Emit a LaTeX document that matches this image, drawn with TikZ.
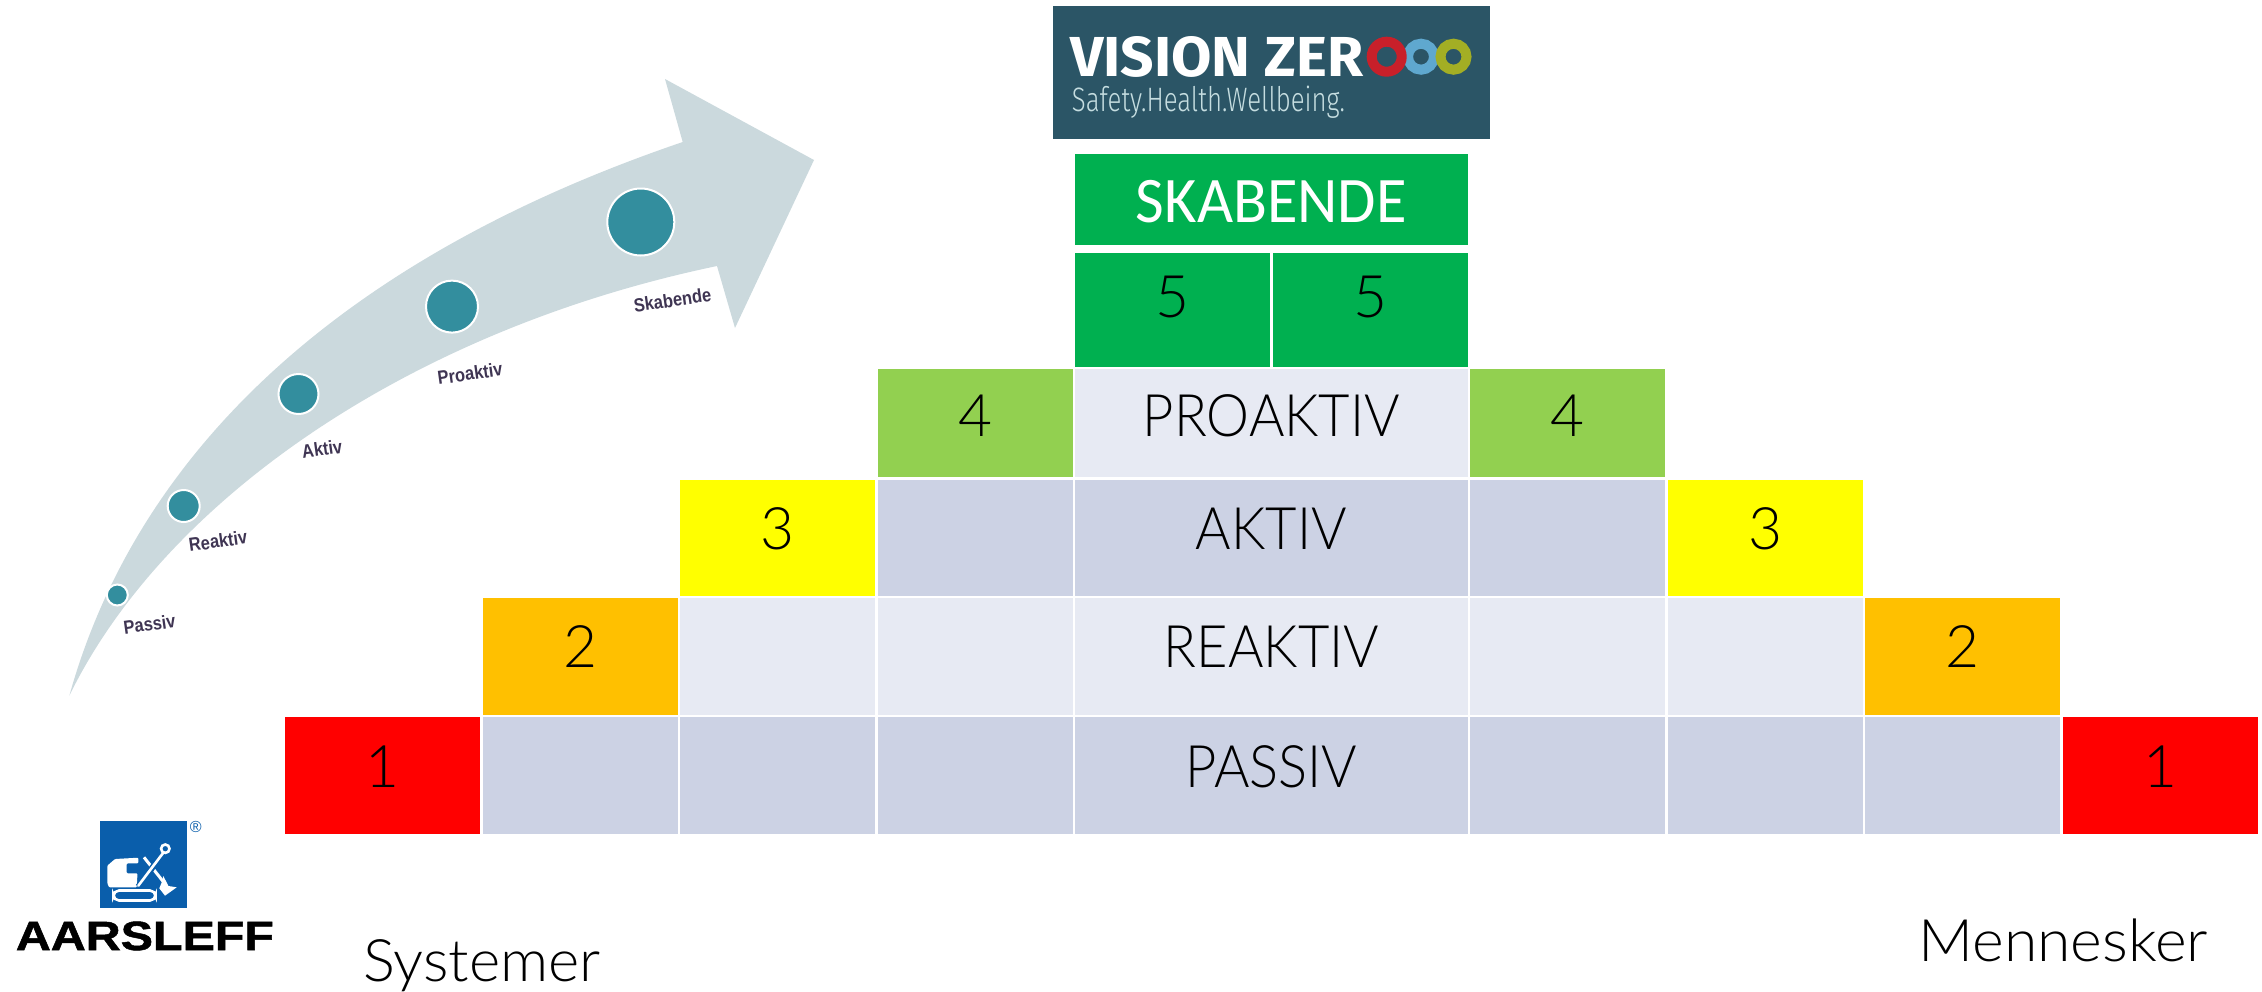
\documentclass[tikz,border=0pt]{standalone}
\usepackage{graphicx}
\usepackage{fontspec}
\setmainfont{Lato Light}
\newfontfamily\skabfont[FakeStretch=0.96]{Carlito}
\newfontfamily\arrowfont{Liberation Sans}
\newfontfamily\visionfont{Fira Sans}
\newfontfamily\visionlight{Fira Sans Light}
\newfontfamily\aarfont[BoldFeatures={FakeBold=1.2}]{Liberation Sans}
\definecolor{passivc}{HTML}{CCD2E4}
\definecolor{lightc}{HTML}{E7EAF3}
\definecolor{greenc}{HTML}{00B050}
\definecolor{lgreenc}{HTML}{92D050}
\definecolor{yellowc}{HTML}{FFFF00}
\definecolor{orangec}{HTML}{FFC000}
\definecolor{redc}{HTML}{FF0000}
\definecolor{arrowc}{HTML}{CBD9DD}
\definecolor{dotc}{HTML}{338E9E}
\definecolor{labc}{HTML}{3F3553}
\definecolor{visionc}{HTML}{2B5566}
\definecolor{safetyc}{HTML}{C5DDE0}
\definecolor{ringr}{HTML}{C8202A}
\definecolor{ringb}{HTML}{5FA8CF}
\definecolor{ringo}{HTML}{A3AE24}
\definecolor{aarc}{HTML}{0A5EAB}
\tikzset{
  cellbox/.style={rectangle,inner sep=0pt,outer sep=0pt,text height=0pt,text depth=0pt,font=\fontsize{58.6}{64}\selectfont},
  dot/.style={circle,fill=dotc,draw=white,line width=2pt,inner sep=0pt},
  arrowlab/.style={font=\arrowfont\bfseries\fontsize{16.5}{18}\selectfont,text=labc,rotate=8,inner sep=0pt},
  bigtext/.style={font=\fontsize{58.6}{64}\selectfont,anchor=base west,inner sep=0pt},
  ring/.style={line width=10pt,fill=none}
}
\newcommand{\tall}[1]{\scalebox{1}[1.15]{#1}}
\newcommand{\capsw}[1]{\scalebox{0.925}[1]{#1}}
\newcommand{\cellnode}[8]{%
  \pgfmathsetmacro{\cw}{#4-#2}\pgfmathsetmacro{\ch}{#5-#3}%
  \pgfmathsetmacro{\cx}{(#2+#4)/2}\pgfmathsetmacro{\cy}{(#3+#5)/2}%
  \node (#1) [cellbox,fill=#6,minimum width=\cw pt,minimum height=\ch pt] at (\cx,\cy) {\raisebox{-#7pt}{#8}};}
\begin{document}
\begin{tikzpicture}[x=1pt,y=-1pt]
\useasboundingbox (0,0) rectangle (2262,991);
% curved arrow
\fill[arrowc] (69.4,695.5) .. controls (135,460) and (330,262) .. (682.7,142)
  -- (665,79) -- (814,160) -- (735,328) -- (717,266)
  .. controls (410,330) and (165,500) .. (69.4,695.5) -- cycle;
\node (d1) [dot,minimum size=21pt] at (117.3,595) {};
\node (d2) [dot,minimum size=32pt] at (183.7,506) {};
\node (d3) [dot,minimum size=40pt] at (298.5,394) {};
\node (d4) [dot,minimum size=52pt] at (452,306.6) {};
\node (d5) [dot,minimum size=67pt] at (640.8,222) {};
\node (l1) [arrowlab] at (149.5,624) {\tall{Passiv}};
\node (l2) [arrowlab] at (218,541) {\tall{Reaktiv}};
\node (l3) [arrowlab] at (322,449) {\tall{Aktiv}};
\node (l4) [arrowlab] at (470,373.5) {\tall{Proaktiv}};
\node (l5) [arrowlab] at (672.4,300) {\tall{Skabende}};
% Vision Zero logo
\fill[visionc] (1053.3,6) rectangle (1490,139);
\node (vz) [anchor=base west,inner sep=0pt,text=white] at (1070,76.7) {\resizebox{293pt}{40pt}{\visionfont\bfseries VISION ZER}};
\draw[ring,ringb] (1421,56.7) circle[radius=13];
\draw[ring,ringo] (1453.5,56.7) circle[radius=13];
\draw[ring,ringr] (1386.7,56.7) circle[radius=15];
\node (vs) [anchor=base west,inner sep=0pt,text=safetyc] at (1071.7,111.7) {\resizebox{273pt}{25.5pt}{\visionlight Safety.Health.Wellbeing.}};
% pyramid
\cellnode{sk}{1075}{154.3}{1467.7}{245}{greenc}{23}{\textcolor{white}{\skabfont\fontsize{65}{70}\selectfont SKABENDE}}
\cellnode{f1}{1075}{253}{1270}{366.7}{greenc}{8}{5}
\cellnode{f2}{1272.7}{253}{1467.7}{366.7}{greenc}{8}{5}
\cellnode{g1}{877.5}{369}{1072.7}{477.3}{lgreenc}{13.5}{4}
\cellnode{pro}{1075}{369}{1467.7}{477.3}{lightc}{13.5}{\capsw{PROAKTIV}}
\cellnode{g2}{1470}{369}{1665}{477.3}{lgreenc}{13.5}{4}
\cellnode{y1}{680}{479.5}{875}{596}{yellowc}{12}{3}
\cellnode{a1}{877.5}{479.5}{1072.7}{596}{passivc}{12}{}
\cellnode{akt}{1075}{479.5}{1467.7}{596}{passivc}{12}{\capsw{AKTIV}}
\cellnode{a2}{1470}{479.5}{1665}{596}{passivc}{12}{}
\cellnode{y2}{1667.5}{479.5}{1862.5}{596}{yellowc}{12}{3}
\cellnode{o1}{482.7}{598}{677.7}{715}{orangec}{10.5}{2}
\cellnode{r1}{680}{598}{875}{715}{lightc}{10.5}{}
\cellnode{r2}{877.5}{598}{1072.7}{715}{lightc}{10.5}{}
\cellnode{rea}{1075}{598}{1467.7}{715}{lightc}{10.5}{\capsw{REAKTIV}}
\cellnode{r3}{1470}{598}{1665}{715}{lightc}{10.5}{}
\cellnode{r4}{1667.5}{598}{1862.5}{715}{lightc}{10.5}{}
\cellnode{o2}{1865}{598}{2060}{715}{orangec}{10.5}{2}
\cellnode{red1}{285}{717}{480}{834}{redc}{11.5}{1}
\cellnode{p1}{482.7}{717}{677.7}{834}{passivc}{11.5}{}
\cellnode{p2}{680}{717}{875}{834}{passivc}{11.5}{}
\cellnode{p3}{877.5}{717}{1072.7}{834}{passivc}{11.5}{}
\cellnode{pas}{1075}{717}{1467.7}{834}{passivc}{11.5}{\capsw{PASSIV}}
\cellnode{p4}{1470}{717}{1665}{834}{passivc}{11.5}{}
\cellnode{p5}{1667.5}{717}{1862.5}{834}{passivc}{11.5}{}
\cellnode{p6}{1865}{717}{2060}{834}{passivc}{11.5}{}
\cellnode{red2}{2063}{717}{2258}{834}{redc}{11.5}{1}
% bottom captions
\node (sys) [bigtext] at (363,981.7) {\scalebox{1.02}[1]{Systemer}};
\node (men) [bigtext] at (1918,961.7) {\scalebox{1.035}[1]{Mennesker}};
% Aarsleff logo
\fill[aarc] (100,821) rectangle (186.7,907.7);
\fill[white,rounded corners=1pt] (107.3,865.7) -- (115,859) -- (138.3,857.7) -- (138.3,863.3) -- (126.7,863.3) -- (126.7,873.3) -- (137.5,873.3) -- (136.7,887.3) -- (109,887.3) -- (107.3,883) -- cycle;
\draw[white,line width=3pt] (144,857.3) -- (163.3,881.7);
\draw[aarc,line width=6pt] (138.3,886.7) -- (163.3,852.7);
\draw[white,line width=2.6pt,line cap=round] (138.3,885.7) -- (163.3,852.7);
\fill[white] (163.3,876) -- (168.5,886) -- (176.7,887.3) -- (165,895.7) -- (159.3,888.3) -- (162.3,881) -- cycle;
\draw[white,line width=2.6pt,fill=aarc] (165.3,848.7) circle[radius=4.2];
\draw[white,line width=2.6pt,rounded corners=5.5pt] (113.5,890.5) rectangle (155.5,900.5);
\node (reg) [inner sep=0pt,text=aarc,font=\arrowfont\fontsize{16}{17}\selectfont] at (195.7,826.7) {®};
\node (aar) [anchor=base west,inner sep=0pt,text=black] at (15.7,950) {\resizebox{258pt}{28.5pt}{\aarfont\bfseries AARSLEFF}};
\end{tikzpicture}
\end{document}
